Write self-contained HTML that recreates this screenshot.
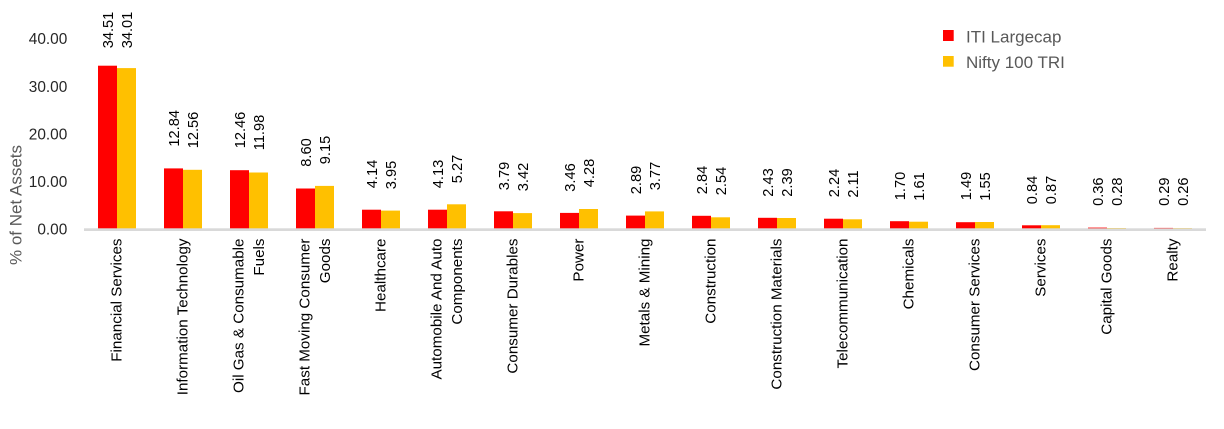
<!DOCTYPE html>
<html>
<head>
<meta charset="utf-8">
<style>
  html, body { margin:0; padding:0; background:#ffffff; }
  body { width:1224px; height:429px; overflow:hidden; }
  svg { display:block; font-family:"Liberation Sans", Arial, sans-serif; }
</style>
</head>
<body>
<svg width="1224" height="429" viewBox="0 0 1224 429" xmlns="http://www.w3.org/2000/svg">
  <rect width="1224" height="429" fill="#ffffff"/>

  <!-- Y axis tick labels -->
  <g font-size="15.4" fill="#262626" text-anchor="end">
    <text x="67.3" y="234.7">0.00</text>
    <text x="67.3" y="187.1">10.00</text>
    <text x="67.3" y="139.5">20.00</text>
    <text x="67.3" y="91.8">30.00</text>
    <text x="67.3" y="44.1">40.00</text>
  </g>

  <!-- Y axis title -->
  <text transform="translate(21.5,205) rotate(-90)" text-anchor="middle" font-size="17" fill="#595959">% of Net Assets</text>

  <!-- Bars: group centers c = 117 + 66*i ; red [c-19,c], orange [c,c+19] -->
  <g>
    <rect x="98" y="65.7" width="19" height="163.6" fill="#ff0000"/>
    <rect x="117" y="68.1" width="19" height="161.2" fill="#ffc000"/>

    <rect x="164" y="168.4" width="19" height="60.9" fill="#ff0000"/>
    <rect x="183" y="169.8" width="19" height="59.5" fill="#ffc000"/>

    <rect x="230" y="170.2" width="19" height="59.1" fill="#ff0000"/>
    <rect x="249" y="172.5" width="19" height="56.8" fill="#ffc000"/>

    <rect x="296" y="188.5" width="19" height="40.8" fill="#ff0000"/>
    <rect x="315" y="185.9" width="19" height="43.4" fill="#ffc000"/>

    <rect x="362" y="209.7" width="19" height="19.6" fill="#ff0000"/>
    <rect x="381" y="210.6" width="19" height="18.7" fill="#ffc000"/>

    <rect x="428" y="209.7" width="19" height="19.6" fill="#ff0000"/>
    <rect x="447" y="204.3" width="19" height="25.0" fill="#ffc000"/>

    <rect x="494" y="211.3" width="19" height="18.0" fill="#ff0000"/>
    <rect x="513" y="213.1" width="19" height="16.2" fill="#ffc000"/>

    <rect x="560" y="212.9" width="19" height="16.4" fill="#ff0000"/>
    <rect x="579" y="209.0" width="19" height="20.3" fill="#ffc000"/>

    <rect x="626" y="215.6" width="19" height="13.7" fill="#ff0000"/>
    <rect x="645" y="211.4" width="19" height="17.9" fill="#ffc000"/>

    <rect x="692" y="215.8" width="19" height="13.5" fill="#ff0000"/>
    <rect x="711" y="217.3" width="19" height="12.0" fill="#ffc000"/>

    <rect x="758" y="217.8" width="19" height="11.5" fill="#ff0000"/>
    <rect x="777" y="218.0" width="19" height="11.3" fill="#ffc000"/>

    <rect x="824" y="218.7" width="19" height="10.6" fill="#ff0000"/>
    <rect x="843" y="219.3" width="19" height="10.0" fill="#ffc000"/>

    <rect x="890" y="221.2" width="19" height="8.1" fill="#ff0000"/>
    <rect x="909" y="221.7" width="19" height="7.6" fill="#ffc000"/>

    <rect x="956" y="222.2" width="19" height="7.1" fill="#ff0000"/>
    <rect x="975" y="222.0" width="19" height="7.3" fill="#ffc000"/>

    <rect x="1022" y="225.3" width="19" height="4.0" fill="#ff0000"/>
    <rect x="1041" y="225.2" width="19" height="4.1" fill="#ffc000"/>

    <rect x="1088" y="227.6" width="19" height="1.7" fill="#ff0000"/>
    <rect x="1107" y="228.0" width="19" height="1.3" fill="#ffc000"/>

    <rect x="1154" y="227.9" width="19" height="1.4" fill="#ff0000"/>
    <rect x="1173" y="228.1" width="19" height="1.2" fill="#ffc000"/>
  </g>

  <!-- Category axis line -->
  <rect x="84" y="228.3" width="1122" height="2.7" fill="#d9d9d9"/>

  <!-- Value labels (two lines each, rotated) -->
  <g font-size="14.6" fill="#000000" text-anchor="middle">
    <text transform="translate(112.9,30) rotate(-90)">34.51</text>
    <text transform="translate(131.9,30) rotate(-90)">34.01</text>

    <text transform="translate(178.9,128.3) rotate(-90)">12.84</text>
    <text transform="translate(197.9,130) rotate(-90)">12.56</text>

    <text transform="translate(244.9,130) rotate(-90)">12.46</text>
    <text transform="translate(263.9,132.5) rotate(-90)">11.98</text>

    <text transform="translate(310.9,152.5) rotate(-90)">8.60</text>
    <text transform="translate(329.9,150) rotate(-90)">9.15</text>

    <text transform="translate(376.9,174) rotate(-90)">4.14</text>
    <text transform="translate(395.9,175) rotate(-90)">3.95</text>

    <text transform="translate(442.9,174) rotate(-90)">4.13</text>
    <text transform="translate(461.9,169) rotate(-90)">5.27</text>

    <text transform="translate(508.9,176) rotate(-90)">3.79</text>
    <text transform="translate(527.9,177) rotate(-90)">3.42</text>

    <text transform="translate(574.9,177.5) rotate(-90)">3.46</text>
    <text transform="translate(593.9,173) rotate(-90)">4.28</text>

    <text transform="translate(640.9,180) rotate(-90)">2.89</text>
    <text transform="translate(659.9,176) rotate(-90)">3.77</text>

    <text transform="translate(706.9,180) rotate(-90)">2.84</text>
    <text transform="translate(725.9,181) rotate(-90)">2.54</text>

    <text transform="translate(772.9,182.5) rotate(-90)">2.43</text>
    <text transform="translate(791.9,182.5) rotate(-90)">2.39</text>

    <text transform="translate(838.9,183) rotate(-90)">2.24</text>
    <text transform="translate(857.9,184) rotate(-90)">2.11</text>

    <text transform="translate(904.9,186) rotate(-90)">1.70</text>
    <text transform="translate(923.9,186.5) rotate(-90)">1.61</text>

    <text transform="translate(970.9,186) rotate(-90)">1.49</text>
    <text transform="translate(989.9,186.5) rotate(-90)">1.55</text>

    <text transform="translate(1036.9,190) rotate(-90)">0.84</text>
    <text transform="translate(1055.9,190) rotate(-90)">0.87</text>

    <text transform="translate(1102.9,191.7) rotate(-90)">0.36</text>
    <text transform="translate(1121.9,191.7) rotate(-90)">0.28</text>

    <text transform="translate(1168.9,191.7) rotate(-90)">0.29</text>
    <text transform="translate(1187.9,191.7) rotate(-90)">0.26</text>
  </g>

  <!-- Category labels (rotated, right-aligned to top) -->
  <g font-size="15.2" fill="#000000" text-anchor="end">
    <text transform="translate(121.5,238.5) rotate(-90)">Financial Services</text>
    <text transform="translate(187.5,238.5) rotate(-90)">Information Technology</text>
    <text transform="translate(243.5,238.5) rotate(-90)">Oil Gas &amp; Consumable</text>
    <text transform="translate(264,238.5) rotate(-90)">Fuels</text>
    <text transform="translate(309.5,238.5) rotate(-90)">Fast Moving Consumer</text>
    <text transform="translate(330,238.5) rotate(-90)">Goods</text>
    <text transform="translate(385.5,238.5) rotate(-90)">Healthcare</text>
    <text transform="translate(441.5,238.5) rotate(-90)">Automobile And Auto</text>
    <text transform="translate(462,238.5) rotate(-90)">Components</text>
    <text transform="translate(517.5,238.5) rotate(-90)">Consumer Durables</text>
    <text transform="translate(583.5,238.5) rotate(-90)">Power</text>
    <text transform="translate(649.5,238.5) rotate(-90)">Metals &amp; Mining</text>
    <text transform="translate(715.5,238.5) rotate(-90)">Construction</text>
    <text transform="translate(781.5,238.5) rotate(-90)">Construction Materials</text>
    <text transform="translate(847.5,238.5) rotate(-90)">Telecommunication</text>
    <text transform="translate(913.5,238.5) rotate(-90)">Chemicals</text>
    <text transform="translate(979.5,238.5) rotate(-90)">Consumer Services</text>
    <text transform="translate(1045.5,238.5) rotate(-90)">Services</text>
    <text transform="translate(1111.5,238.5) rotate(-90)">Capital Goods</text>
    <text transform="translate(1177.5,238.5) rotate(-90)">Realty</text>
  </g>

  <!-- Legend -->
  <rect x="943" y="30" width="10.7" height="11" fill="#ff0000"/>
  <rect x="943" y="56" width="10.7" height="10.7" fill="#ffc000"/>
  <g font-size="17" fill="#595959">
    <text x="966" y="42.3">ITI Largecap</text>
    <text x="966" y="67.8">Nifty 100 TRI</text>
  </g>
</svg>
</body>
</html>
